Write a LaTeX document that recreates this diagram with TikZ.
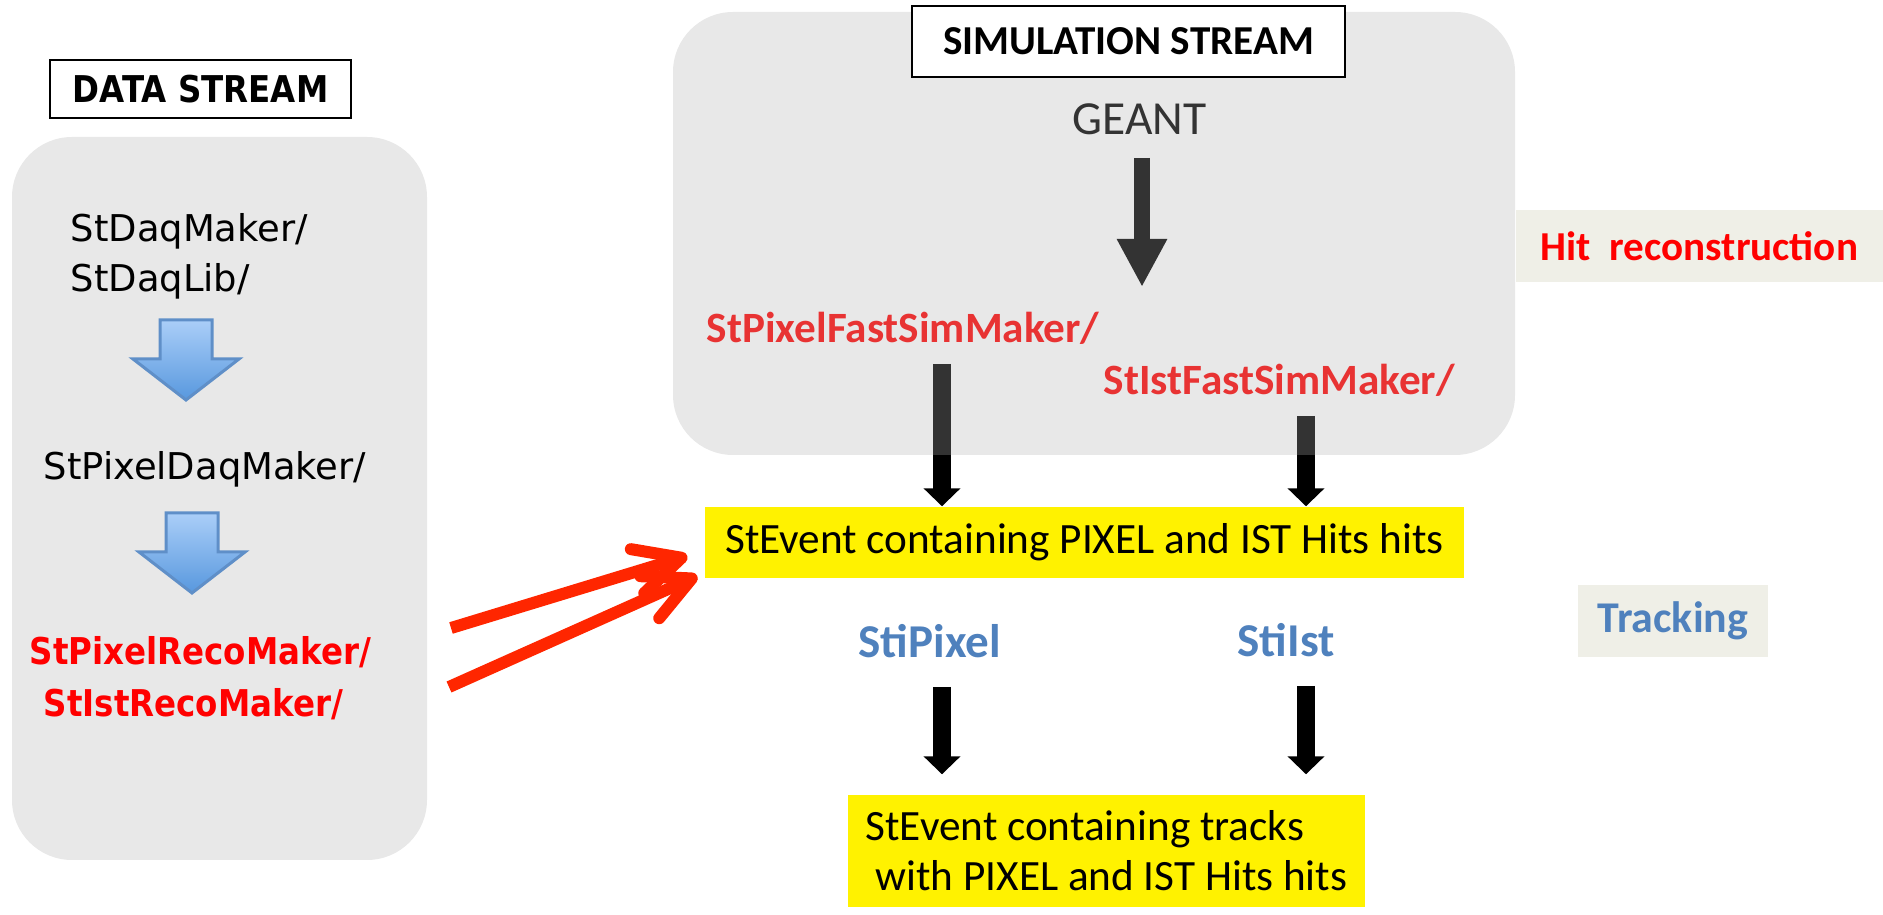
\documentclass[tikz,border=0pt]{standalone}
\usepackage{fontspec}
\setmainfont{Carlito}
\newfontfamily\daqfont{DejaVu Sans}
\newfontfamily\daqbold{DejaVu Sans}[FakeStretch=0.88]
\usetikzlibrary{arrows.meta,calc}
\definecolor{leftgray}{RGB}{232,232,232}
\definecolor{panelgray}{RGB}{176,176,176}
\definecolor{tagbg}{RGB}{239,239,231}
\definecolor{stiblue}{RGB}{79,129,189}
\definecolor{inred}{RGB}{255,38,0}
\definecolor{daqtop}{RGB}{170,206,248}
\definecolor{daqbot}{RGB}{88,152,222}
\definecolor{daqline}{RGB}{95,143,200}
\pgfdeclarelayer{under}
\pgfdeclarelayer{panel}
\pgfsetlayers{under,panel,main}
\tikzset{
  panelbox/.style={rounded corners=6mm},
  titlebox/.style={draw,line width=0.45pt,fill=white,inner sep=0pt},
  evbox/.style={fill=yellow,inner sep=0pt,font=\fontsize{12.3pt}{14.2pt}\selectfont},
  tagbox/.style={fill=tagbg,inner sep=0pt,minimum height=7.2mm,font=\bfseries\fontsize{11.7pt}{14pt}\selectfont},
  daqtext/.style={anchor=base west,inner sep=0pt,font=\daqfont\fontsize{10.5pt}{12pt}\selectfont},
  recotext/.style={anchor=base west,inner sep=0pt,text=red,font=\daqbold\bfseries\fontsize{10.5pt}{12pt}\selectfont},
  simtext/.style={anchor=base west,inner sep=0pt,text=red,font=\bfseries\fontsize{12.3pt}{14pt}\selectfont},
  stitext/.style={anchor=base west,inner sep=0pt,text=stiblue,font=\bfseries\fontsize{13.4pt}{16pt}\selectfont},
  flowarrow/.style={line width=1.8mm,-{Triangle[length=1.8mm,width=3.6mm]}},
  geantarrow/.style={line width=1.6mm,-{Triangle[length=4.8mm,width=4.7mm]}},
  recoarrow/.style={color=inred,line width=1.2mm,-{Straight Barb[length=4.6mm,width=4.6mm,round]}}
}
\newcommand\daqarrow[1]{\shadedraw[top color=daqtop,bottom color=daqbot,draw=daqline,line width=0.3mm]
  #1 ++(-26,0) -- ++(52,0) -- ++(0,39) -- ++(27,0) -- ++(-53,41) -- ++(-53,-41) -- ++(27,0) -- cycle;}
\begin{document}
\begin{tikzpicture}[x=0.1mm,y=-0.1mm]
\useasboundingbox (0,0) rectangle (1883,915);
\begin{pgfonlayer}{panel}
  \fill[leftgray,panelbox] (12,137) rectangle (427,860);
  \fill[panelgray,fill opacity=0.29,panelbox] (673,12) rectangle (1515,455);
\end{pgfonlayer}
% data stream
\node[titlebox,minimum width=30.1mm,minimum height=5.8mm,font=\daqbold\bfseries\fontsize{10.5pt}{12pt}\selectfont] (datatitle) at (200.5,89) {DATA STREAM};
\node[daqtext] (daqmaker) at (70,242) {StDaqMaker/};
\node[daqtext] (daqlib) at (70,292) {StDaqLib/};
\node[daqtext] (pixdaq) at (43,480) {StPixelDaqMaker/};
\node[recotext] (pixreco) at (29,665) {StPixelRecoMaker/};
\node[recotext] (istreco) at (43,717) {StIstRecoMaker/};
\daqarrow{($(daqlib.base west)+(116,28)$)}
\daqarrow{($(pixdaq.base west)+(149,33)$)}
% simulation stream
\node[titlebox,minimum width=43.3mm,minimum height=7.1mm,font=\bfseries\fontsize{11.7pt}{14pt}\selectfont] (simtitle) at (1128.5,41.5) {SIMULATION STREAM};
\node[evbox,minimum width=75.9mm,minimum height=7.1mm] (ev1) at (1084.5,542.5) {StEvent containing PIXEL and IST Hits hits};
\node[evbox,minimum width=51.7mm,minimum height=11.2mm,align=left] (ev2) at (1106.5,851) {StEvent containing tracks\\\hspace*{1mm}with PIXEL and IST Hits hits};
\coordinate (geantcol) at (1142,0);
\coordinate (pixcol) at (942,0);
\coordinate (istcol) at (1306,0);
\begin{pgfonlayer}{under}
  \node[anchor=base west,inner sep=0pt,font=\fontsize{13.5pt}{16pt}\selectfont] (geant) at (1072,135) {GEANT};
  \node[simtext] (pixsim) at (706,343) {StPixelFastSimMaker/};
  \node[simtext] (istsim) at (1103,395) {StIstFastSimMaker/};
  \draw[geantarrow,shorten >=2.5mm] ([yshift=-2.3mm]geantcol |- geant.base) -- (geantcol |- pixsim.north);
  \draw[flowarrow] ([yshift=-2.1mm]pixcol |- pixsim.base) -- (pixcol |- ev1.north);
  \draw[flowarrow] ([yshift=-2.1mm]istcol |- istsim.base) -- (istcol |- ev1.north);
\end{pgfonlayer}
\node[stitext] (stipix) at (858,658) {StiPixel};
\node[stitext] (stiist) at (1237,657) {StiIst};
\draw[flowarrow,shorten >=2mm] ([yshift=-2.9mm]pixcol |- stipix.base) -- (pixcol |- ev2.north);
\draw[flowarrow,shorten >=2mm] ([yshift=-2.9mm]istcol |- stiist.base) -- (istcol |- ev2.north);
% labels on the right
\node[tagbox,text=red,minimum width=36.7mm] (hitreco) at (1699.5,246) {Hit\ \ reconstruction};
\node[tagbox,text=stiblue,minimum width=19mm,font=\bfseries\fontsize{12.5pt}{14pt}\selectfont] (tracking) at (1673,621) {Tracking};
% reco output into StEvent
\coordinate (tailA) at (451,628);
\coordinate (tailB) at (449,687);
\draw[recoarrow] (tailA) -- ($(ev1.west)+(-17,13.5)$);
\draw[recoarrow] (tailB) -- ($(ev1.west)+(-7,33.5)$);
\end{tikzpicture}
\end{document}
